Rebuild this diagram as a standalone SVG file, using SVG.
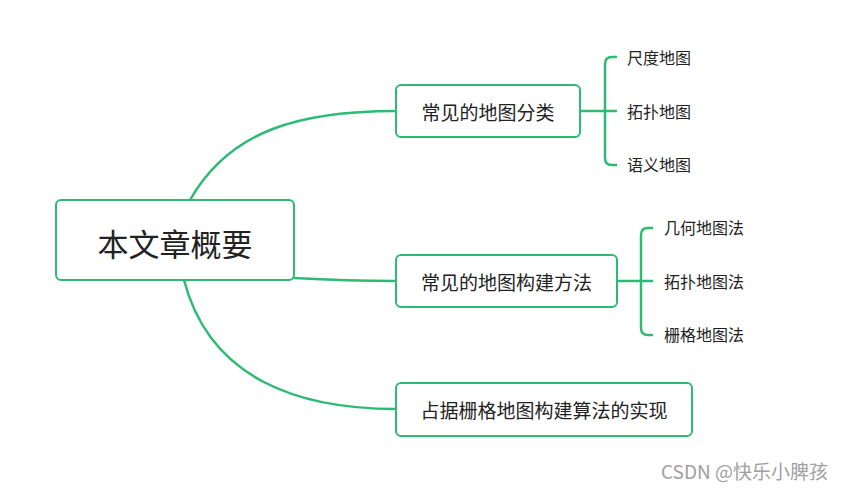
<svg xmlns="http://www.w3.org/2000/svg" width="849" height="490" viewBox="0 0 849 490">
<style>
.box{fill:#fff;stroke:#2dbb74;stroke-width:2}
.ln{fill:none;stroke:#2dbb74;stroke-width:2.5}
.t{font-family:"Noto Sans CJK SC","Liberation Sans",sans-serif;fill:#222;dominant-baseline:central}
.c{text-anchor:middle}
</style>
<rect width="849" height="490" fill="#fff"/>
<g id="connectors">
<path class="ln" d="M190,200 C230,130 300,111 396,111"/>
<path class="ln" d="M294,278 C330,280 360,281 396,281"/>
<path class="ln" d="M184,280 C210,380 300,409 396,409"/>
<path class="ln" d="M580,111 H605"/>
<path class="ln" d="M617,57 H612 Q605,57 605,64 V158 Q605,165 612,165 H617 M605,111 H617"/>
<path class="ln" d="M617,281 H641"/>
<path class="ln" d="M653,228 H648 Q641,228 641,235 V328 Q641,335 648,335 H653 M641,281 H653"/>
</g>
<g id="root">
<rect class="box" x="56" y="200" width="238" height="80" rx="5"/>
<text class="t c" x="175" y="242" font-size="31">本文章概要</text>
</g>
<g id="n1">
<rect class="box" x="396" y="85" width="184" height="52" rx="5"/>
<text class="t c" x="488" y="111" font-size="19">常见的地图分类</text>
</g>
<g id="n2">
<rect class="box" x="396" y="255" width="221" height="52" rx="5"/>
<text class="t c" x="506.5" y="281" font-size="19">常见的地图构建方法</text>
</g>
<g id="n3">
<rect class="box" x="396" y="383" width="296" height="53" rx="5"/>
<text class="t c" x="544" y="409" font-size="19">占据栅格地图构建算法的实现</text>
</g>
<g id="n1a"><text class="t" x="627" y="57" font-size="16">尺度地图</text></g>
<g id="n1b"><text class="t" x="627" y="111" font-size="16">拓扑地图</text></g>
<g id="n1c"><text class="t" x="627" y="164" font-size="16">语义地图</text></g>
<g id="n2a"><text class="t" x="664" y="227" font-size="16">几何地图法</text></g>
<g id="n2b"><text class="t" x="664" y="281" font-size="16">拓扑地图法</text></g>
<g id="n2c"><text class="t" x="664" y="334" font-size="16">栅格地图法</text></g>
<text class="t" x="661" y="470" font-size="19" style="fill:#a0a0a0">CSDN @快乐小脾孩</text>
</svg>
